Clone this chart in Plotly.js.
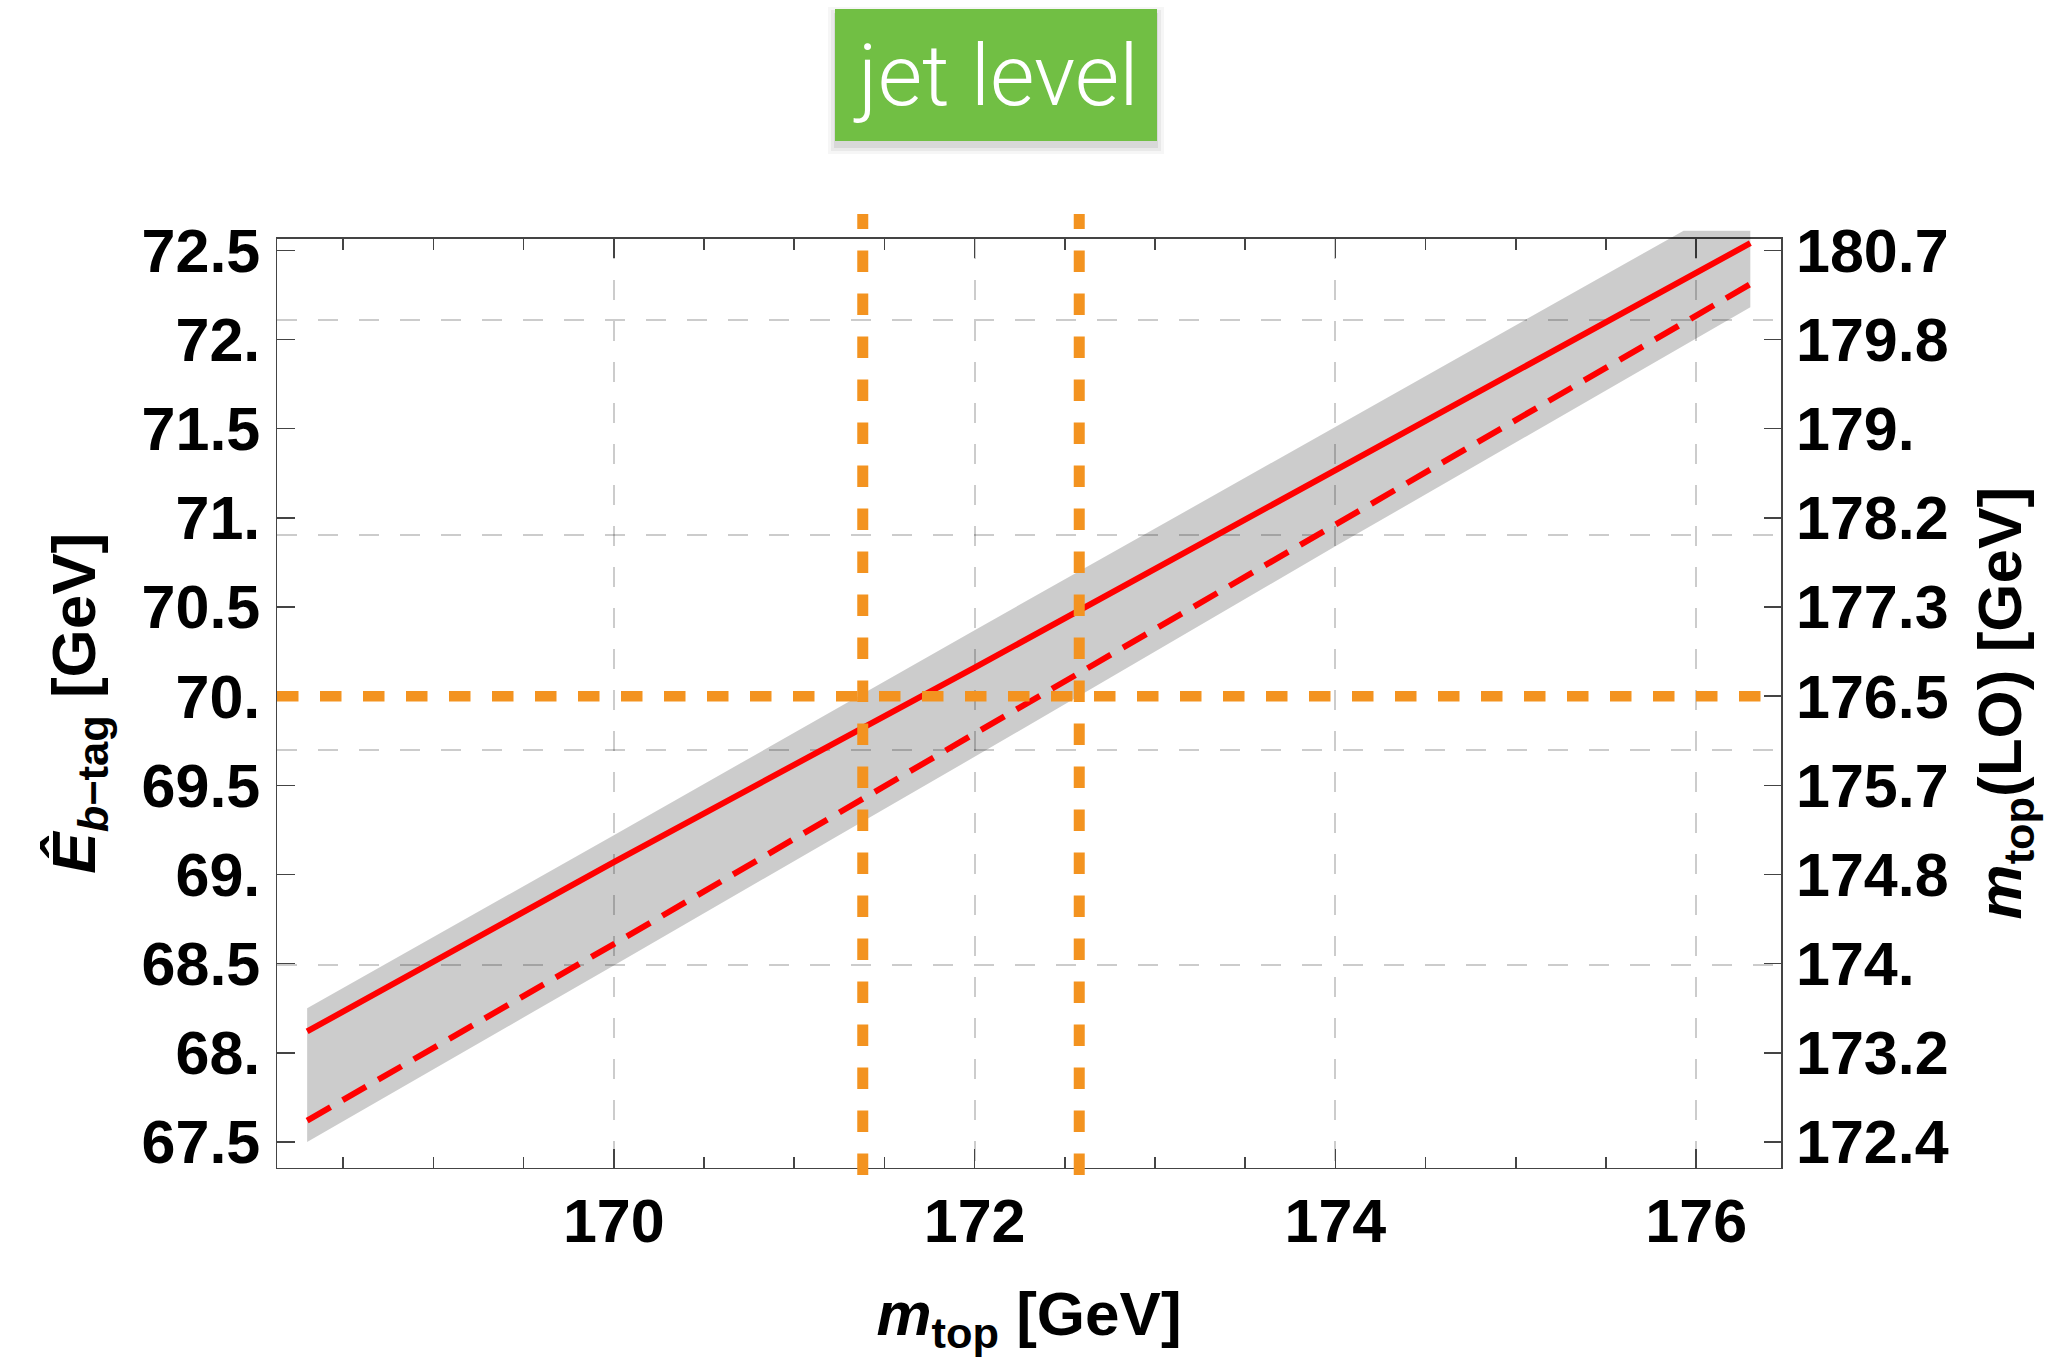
<!DOCTYPE html>
<html>
<head>
<meta charset="utf-8">
<script src="https://cdn.plot.ly/plotly-3.0.1.min.js"></script>
<style>html,body{margin:0;padding:0;background:#fff;}#chart{width:2053px;height:1357px;}</style>
</head>
<body>
<div id="chart"></div>
<script>
// ---------- data ----------
const xTickVals = [170, 172, 174, 176];
const xTickText = ['170', '172', '174', '176'];
const yTickVals = [67.5, 68, 68.5, 69, 69.5, 70, 70.5, 71, 71.5, 72, 72.5];
const yTickText = ['67.5', '68.', '68.5', '69.', '69.5', '70.', '70.5', '71.', '71.5', '72.', '72.5'];
const rightTickText = ['172.4', '173.2', '174.', '174.8', '175.7', '176.5', '177.3', '178.2', '179.', '179.8', '180.7'];
// m_top(LO) calibration: LO value and the E value at which it sits
const loCalibLO = [174, 180];
const loCalibE = [68.492, 72.109];
const loGridVals = [174, 176, 178, 180];

// central (solid) and shifted (dashed) curves
const mTop = [168.3, 170, 172, 174, 176.3];
const eSolid = [68.12, 69.07, 70.16, 71.27, 72.54];
const eDashed = [67.62, 68.61, 69.79, 70.96, 72.31];

// gray uncertainty band
const bandUpperX = [168.3, 170, 172, 174, 175.93, 176.3];
const bandUpperY = [68.25, 69.22, 70.37, 71.51, 72.61, 72.61];
const bandLowerX = [168.3, 170, 172, 174, 176.3];
const bandLowerY = [67.50, 68.49, 69.66, 70.84, 72.18];

// orange reference lines
const refMTop = [171.38, 172.58];
const refE = 70;

// ---------- geometry ----------
const W = 2053, H = 1357;
const M = {l: 277, r: 272, t: 214, b: 182};
const plotW = W - M.l - M.r, plotH = H - M.t - M.b;
const frameTop = 238.7, frameBot = 1167.7;
const xr = [168.133, 176.470];
const yr = [67.356, 72.565];
const yDom = [(H - M.b - frameBot) / plotH, (H - M.b - frameTop) / plotH];
const slope = (yr[1] - yr[0]) / (yDom[1] - yDom[0]);
const y2r = [yr[0] - yDom[0] * slope, yr[1] + (1 - yDom[1]) * slope];
const loSlope = (loCalibLO[1] - loCalibLO[0]) / (loCalibE[1] - loCalibE[0]);
const loOf = e => loCalibLO[0] + (e - loCalibE[0]) * loSlope;
const loRange = [loOf(yr[0]), loOf(yr[1])];
const px = x => (x - M.l) / plotW;
const py = y => (H - M.b - y) / plotH;

const FONT = 'Liberation Sans, Arial, Helvetica, sans-serif';
const AX = '#444';
const GRID = 'rgba(0,0,0,0.2)';
const GDASH = '20px,21px';
const ORANGE = '#f39320';

const traces = [];
traces.push({type: 'scatter', x: [], y: [], xaxis: 'x', yaxis: 'y', hoverinfo: 'skip', showlegend: false});
traces.push({type: 'scatter', x: [], y: [], xaxis: 'x', yaxis: 'y3', hoverinfo: 'skip', showlegend: false});
traces.push({type: 'scatter', x: [], y: [], xaxis: 'x', yaxis: 'y4', hoverinfo: 'skip', showlegend: false});

// band polygon
traces.push({
  type: 'scatter', mode: 'lines', xaxis: 'x2', yaxis: 'y2',
  x: bandUpperX.concat(bandLowerX.slice().reverse()),
  y: bandUpperY.concat(bandLowerY.slice().reverse()),
  fill: 'toself', fillcolor: 'rgba(0,0,0,0.2)', line: {width: 0}, hoverinfo: 'skip', showlegend: false
});
traces.push({
  type: 'scatter', mode: 'lines', xaxis: 'x2', yaxis: 'y2', x: mTop, y: eSolid,
  line: {color: '#ff0000', width: 6}, hoverinfo: 'skip', showlegend: false
});
traces.push({
  type: 'scatter', mode: 'lines', xaxis: 'x2', yaxis: 'y2', x: mTop, y: eDashed,
  line: {color: '#ff0000', width: 6, dash: '27px,14px'}, hoverinfo: 'skip', showlegend: false
});
traces.push({
  type: 'scatter', mode: 'lines', xaxis: 'x2', yaxis: 'y2', x: [xr[0], xr[1]], y: [refE, refE],
  line: {color: ORANGE, width: 10.5, dash: '21.5px,21.5px'}, hoverinfo: 'skip', showlegend: false
});
refMTop.forEach(m => traces.push({
  type: 'scatter', mode: 'lines', xaxis: 'x2', yaxis: 'y2', x: [m, m], y: [y2r[0], y2r[1]],
  line: {color: ORANGE, width: 11, dash: '21.5px,21.5px'}, hoverinfo: 'skip', showlegend: false
}));

const tickFont = {family: FONT, size: 61, color: '#000', weight: 'bold'};
const titleFont = {family: FONT, size: 62, color: '#000', weight: 'bold'};

// jet level box
const box = {x0: 835, x1: 1157, y0: 9, y1: 141};
const shapes = [];
[[10, 0.035], [7, 0.05], [4, 0.07]].forEach(([k, a]) => shapes.push({
  type: 'rect', xref: 'paper', yref: 'paper', layer: 'above',
  x0: px(box.x0 - k + 3), x1: px(box.x1 + k - 3), y0: py(box.y1 + k + 3), y1: py(box.y0 - k + 8),
  fillcolor: 'rgba(0,0,0,' + a + ')', line: {width: 0}
}));
shapes.push({
  type: 'rect', xref: 'paper', yref: 'paper', layer: 'above',
  x0: px(box.x0), x1: px(box.x1), y0: py(box.y1), y1: py(box.y0),
  fillcolor: '#71bf44', line: {width: 0}
});

const layout = {
  width: W, height: H,
  margin: {l: M.l, r: M.r, t: M.t, b: M.b, pad: 0},
  paper_bgcolor: '#fff', plot_bgcolor: 'rgba(0,0,0,0)',
  showlegend: false,
  xaxis: {
    domain: [0, 1], range: xr, anchor: 'y',
    tickmode: 'array', tickvals: xTickVals, ticktext: xTickText,
    ticks: 'inside', ticklen: 19, tickwidth: 1.5, tickcolor: AX,
    minor: {tickmode: 'linear', tick0: 0, dtick: 0.5, ticks: 'inside', ticklen: 11, tickwidth: 1.5, tickcolor: AX, showgrid: false},
    showline: true, linecolor: AX, linewidth: 1.5, mirror: 'ticks',
    showgrid: true, gridcolor: GRID, gridwidth: 2, griddash: GDASH, zeroline: false,
    tickfont: tickFont, ticklabelstandoff: 0,
    title: {text: '<i>m</i><sub>top</sub> [GeV]', font: titleFont, standoff: 46}
  },
  yaxis: {
    domain: yDom, range: yr, anchor: 'x',
    tickmode: 'array', tickvals: yTickVals, ticktext: yTickText,
    ticks: 'inside', ticklen: 18, tickwidth: 1.5, tickcolor: AX,
    showline: true, linecolor: AX, linewidth: 1.5, mirror: true,
    showgrid: false, zeroline: false,
    tickfont: tickFont, ticklabelstandoff: 3,
    title: {text: '<i>Ê</i><sub><i>b</i>−tag</sub> [GeV]', font: titleFont, standoff: 26}
  },
  yaxis3: {
    overlaying: 'y', side: 'right', anchor: 'x', range: yr,
    tickmode: 'array', tickvals: yTickVals, ticktext: rightTickText,
    ticks: 'inside', ticklen: 17, tickwidth: 1.5, tickcolor: AX,
    showline: false, showgrid: false, zeroline: false,
    tickfont: tickFont, ticklabelstandoff: 14,
    title: {text: '<i>m</i><sub>top</sub>(LO) [GeV]', font: titleFont, standoff: 29}
  },
  yaxis4: {
    overlaying: 'y', side: 'left', anchor: 'x', range: loRange,
    tickmode: 'array', tickvals: loGridVals, showticklabels: false, ticks: '',
    showline: false, showgrid: true, gridcolor: GRID, gridwidth: 2, griddash: GDASH, zeroline: false
  },
  xaxis2: {domain: [0, 1], range: xr, anchor: 'y2', visible: false},
  yaxis2: {domain: [0, 1], range: y2r, anchor: 'x2', visible: false},
  shapes: shapes,
  annotations: [{
    xref: 'paper', yref: 'paper', x: px((box.x0 + box.x1) / 2), y: py(box.y0 + 66),
    xanchor: 'center', yanchor: 'middle', showarrow: false,
    text: 'jet level', font: {family: 'Roboto, Lato, sans-serif', size: 86, color: '#fff', weight: 300}
  }]
};

Plotly.newPlot('chart', traces, layout, {staticPlot: true, displayModeBar: false});
</script>
</body>
</html>
